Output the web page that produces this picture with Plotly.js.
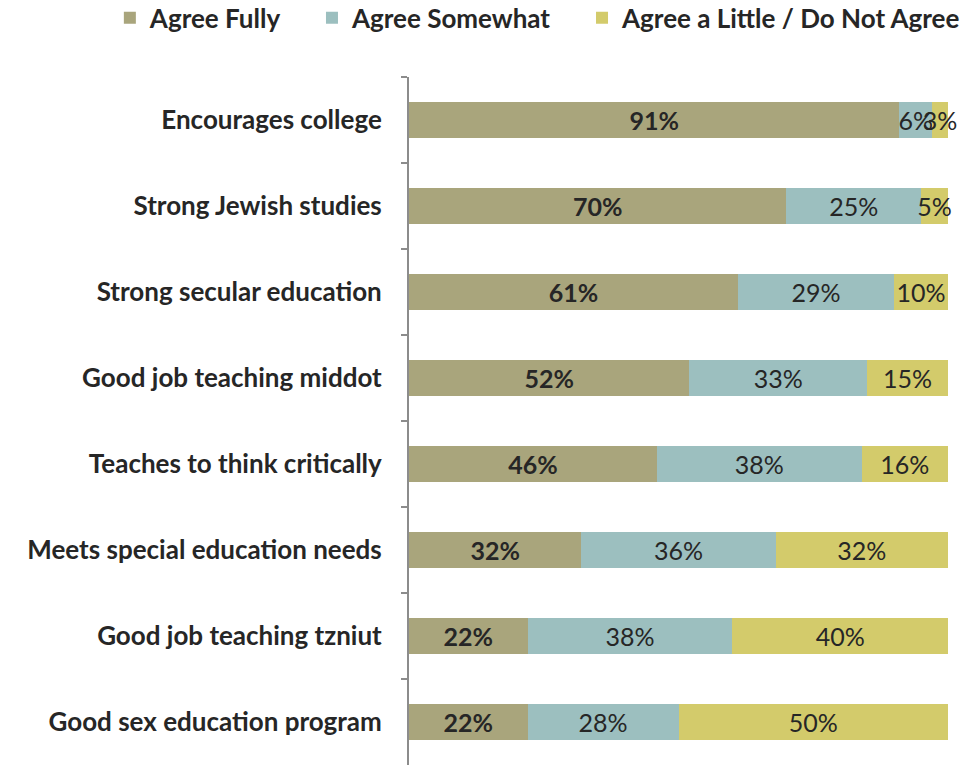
<!DOCTYPE html>
<html>
<head>
<meta charset="utf-8">
<script src="https://cdn.plot.ly/plotly-3.0.1.min.js"></script>
<style>html,body{margin:0;padding:0;background:#fff;}#chart{width:975px;height:765px;}</style>
</head>
<body>
<div id="chart"></div>
<script>
var categories = [
  "Encourages college",
  "Strong Jewish studies",
  "Strong secular education",
  "Good job teaching middot",
  "Teaches to think critically",
  "Meets special education needs",
  "Good job teaching tzniut",
  "Good sex education program"
];
var agreeFully = [91, 70, 61, 52, 46, 32, 22, 22];
var agreeSomewhat = [6, 25, 29, 33, 38, 36, 38, 28];
var agreeLittle = [3, 5, 10, 15, 16, 32, 40, 50];
var seriesNames = ["Agree Fully", "Agree Somewhat", "Agree a Little / Do Not Agree"];
var colors = ["#A9A57C", "#9CBFBF", "#D3CB6B"];
var legendIds = ["legend", "legend2", "legend3"];

var fontFam = "Lato, 'Open Sans', sans-serif";
function mk(vals, i, bold) {
  return {
    type: "bar",
    orientation: "h",
    name: seriesNames[i],
    legend: legendIds[i],
    y: categories,
    x: vals,
    marker: {color: colors[i], line: {width: 0}},
    text: vals.map(function(v){ return bold ? "<b>" + v + "%</b>" : v + "%"; }),
    texttemplate: "%{text}",
    textposition: "inside",
    insidetextanchor: "middle",
    textangle: 0,
    constraintext: "none",
    cliponaxis: false,
    textfont: {family: fontFam, size: 25, color: "#262626"},
    hoverinfo: "skip"
  };
}
var data = [mk(agreeFully, 0, true), mk(agreeSomewhat, 1, false), mk(agreeLittle, 2, false)];

function leg(x) {
  return {
    orientation: "h",
    xref: "paper", yref: "paper",
    x: x, xanchor: "left",
    y: 1.12, yanchor: "top",
    font: {family: fontFam, size: 26, color: "#262626", weight: "bold"},
    itemclick: false,
    bgcolor: "rgba(0,0,0,0)"
  };
}

var layout = {
  width: 975, height: 765,
  barmode: "stack",
  bargap: 0.57,
  margin: {l: 409, r: 27, t: 77, b: 0, autoexpand: false},
  paper_bgcolor: "#fff", plot_bgcolor: "#fff",
  font: {family: fontFam, color: "#262626"},
  showlegend: true,
  legend: leg(-0.555),
  legend2: leg(-0.180),
  legend3: leg(0.321),
  xaxis: {range: [0, 100], visible: false, fixedrange: true},
  yaxis: {
    type: "category",
    autorange: "reversed",
    showline: true, linecolor: "#8C8C8C", linewidth: 2,
    ticks: "outside", tickson: "boundaries", ticklen: 6, tickcolor: "#8C8C8C", tickwidth: 2,
    showgrid: false, zeroline: false,
    ticklabelstandoff: 20,
    tickfont: {family: fontFam, size: 26, color: "#262626", weight: "bold"}
  }
};
Plotly.newPlot("chart", data, layout, {displayModeBar: false, staticPlot: true});
</script>
</body>
</html>
